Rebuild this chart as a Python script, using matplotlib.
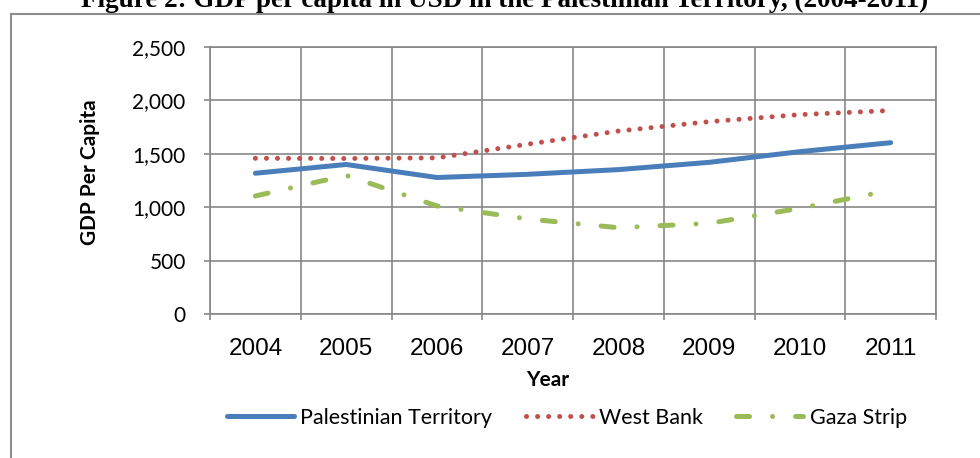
import numpy as np
import matplotlib.pyplot as plt
import matplotlib.patches as patches

years = ['2004', '2005', '2006', '2007', '2008', '2009', '2010', '2011']
palestinian_territory = [1318, 1400, 1278, 1308, 1352, 1420, 1520, 1604]
west_bank = [1458, 1456, 1462, 1590, 1713, 1801, 1867, 1905]
gaza_strip = [1105, 1298, 1012, 890, 808, 849, 990, 1158]

blue = '#4A7EBB'
red = '#C0504D'
green = '#9BBB59'
grid = '#878787'

calibri_like = 'Lato'

fig = plt.figure(figsize=(9.8, 4.58), dpi=100)
ax = fig.add_axes([210 / 980, 1 - 314 / 458, 726 / 980, 267 / 458])

x = np.arange(len(years))
ax.plot(x, palestinian_territory, color=blue, lw=3.6, solid_capstyle='round',
        label='Palestinian Territory', zorder=3)
ax.plot(x, west_bank, color=red, lw=3.6, linestyle=(0, (0.01, 2.2)),
        dash_capstyle='round', label='West Bank', zorder=3)
ax.plot(x, gaza_strip, color=green, lw=3.6, linestyle=(0, (2.6, 4.6, 0.01, 4.6)),
        dash_capstyle='round', label='Gaza Strip', zorder=3)

ax.set_xlim(-0.5, len(years) - 0.5)
ax.set_ylim(0, 2500)
ax.set_yticks(np.arange(0, 2501, 500))
ax.set_yticklabels([f'{v:,}' for v in range(0, 2501, 500)],
                   fontfamily=calibri_like, fontsize=15)
ax.set_xticks(x)
ax.set_xticklabels(years, fontfamily='Liberation Sans', fontsize=17.5)
ax.set_xticks(np.arange(-0.5, len(years)), minor=True)

ax.tick_params(axis='x', which='major', length=0, pad=17)
ax.tick_params(axis='x', which='minor', length=4.5, width=1.2, color=grid)
ax.tick_params(axis='y', which='major', length=4.5, width=1.2, color=grid, pad=13)
ax.grid(True, which='minor', axis='x', color=grid, lw=1.2)
ax.grid(True, which='major', axis='y', color=grid, lw=1.2)
ax.set_axisbelow(True)
for side in ['top', 'right', 'left', 'bottom']:
    ax.spines[side].set_color(grid)
    ax.spines[side].set_linewidth(1.2)

fig.text(90 / 980, 1 - 172 / 458, 'GDP Per Capita', rotation=90, ha='center', va='center',
         fontfamily=calibri_like, fontweight='bold', fontsize=15)
fig.text(548 / 980, 1 - 380 / 458, 'Year', ha='center', va='center',
         fontfamily=calibri_like, fontweight='bold', fontsize=15)

leg = ax.legend(loc='center', bbox_to_anchor=(567 / 980, 1 - 418 / 458),
                bbox_transform=fig.transFigure, ncol=3, frameon=False,
                prop={'family': calibri_like, 'size': 15.5},
                handlelength=3.1, handletextpad=0.3, columnspacing=1.55)

# chart border, running off the right and bottom edges
fig.patches.append(patches.Rectangle((11 / 980, -0.1), 1.2, 1 - 14 / 458 + 0.1,
                                     transform=fig.transFigure, fill=False,
                                     edgecolor='#8C8C8C', lw=1.5))

fig.text(505 / 980, 1 - 7 / 458,
         'Figure 2: GDP per capita in USD in the Palestinian Territory, (2004-2011)',
         ha='center', va='baseline', fontfamily='Liberation Serif', fontweight='bold',
         fontsize=19.5)

fig.savefig('out.png', dpi=100)
